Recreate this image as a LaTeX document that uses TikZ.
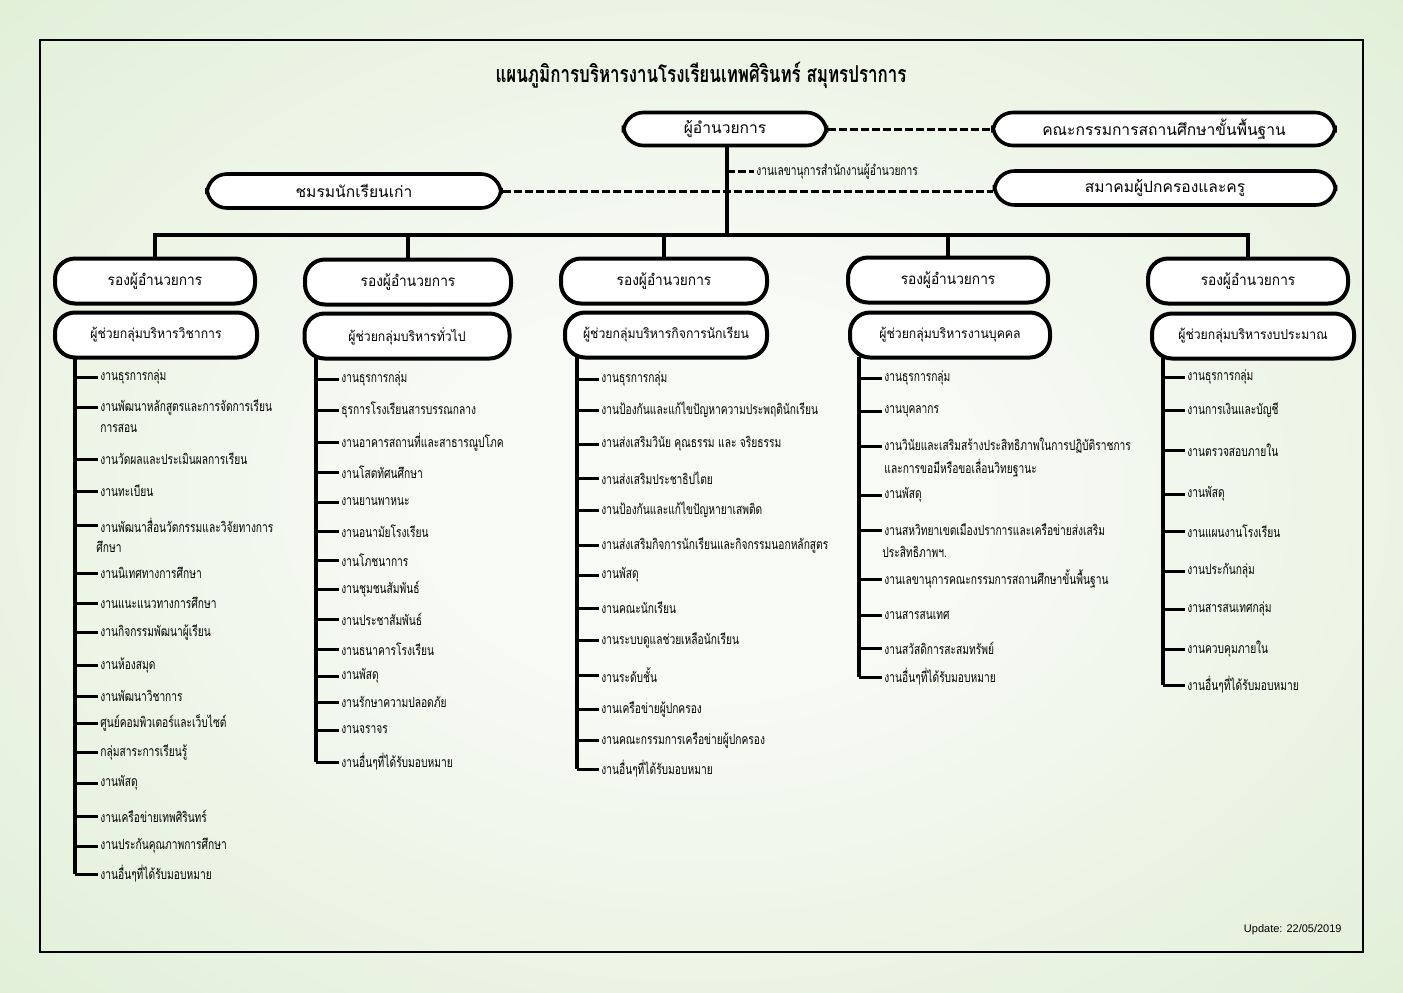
\documentclass[tikz,border=0pt]{standalone}
\usepackage{fontspec}
\newfontfamily\thai[Script=Thai]{Loma}
\newfontfamily\thaim[Script=Thai,FakeStretch=0.9]{Loma}
\newfontfamily\thaic[Script=Thai,FakeStretch=0.73]{Loma}
\newfontfamily\latn{Liberation Sans}
\usetikzlibrary{calc}
\definecolor{bgin}{RGB}{248,250,245}
\definecolor{bgmid}{RGB}{216,235,204}
\definecolor{bgout}{RGB}{194,222,176}
\pgfdeclareradialshading{bgshade}{\pgfpoint{0bp}{0bp}}{color(0bp)=(bgin); color(10bp)=(bgin); color(46bp)=(bgmid); color(72bp)=(bgout)}
\begin{document}
\begin{tikzpicture}[x=0.5pt,y=-0.5pt,
  capsule/.style={draw=black, line width=2pt, fill=white, rounded corners=10pt, inner sep=0pt},
  topbox/.style={capsule, line width=1.8pt, minimum height=16.5pt, font=\thai\fontsize{7.8}{9}\selectfont},
  vicebox/.style={capsule, minimum height=22.5pt, minimum width=100pt, font=\thaim\fontsize{7.6}{9}\selectfont},
  asstbox/.style={capsule, minimum height=22.5pt, minimum width=101pt, font=\thaim\fontsize{6.8}{8}\selectfont},
  item/.style={anchor=west, inner sep=1pt, font=\thaic\fontsize{7}{8}\selectfont},
  tick/.style={line width=1.5pt},
  colline/.style={line width=2pt},
  mainline/.style={line width=2pt},
  dashline/.style={line width=1.5pt, dash pattern=on 4pt off 1.5pt},
]
\useasboundingbox (0,0) rectangle (1403,992);
\shade[shading=bgshade] (0,0) rectangle (1403,992);
\node[draw=black, line width=0.8pt, minimum width=661.5pt, minimum height=456pt, inner sep=0pt] (frame) at (701.5,496) {};

\node[font=\thaic\bfseries\fontsize{11.6}{13}\selectfont] (title) at (701,75) {แผนภูมิการบริหารงานโรงเรียนเทพศิรินทร์ สมุทรปราการ};

% top level
\node[topbox, minimum width=101.5pt] (dir) at (725,129) {ผู้อำนวยการ};
\node[topbox, minimum width=171pt] (board) at (1164,129) {คณะกรรมการสถานศึกษาขั้นพื้นฐาน};
\node[topbox, minimum width=147pt, minimum height=17pt] (alumni) at (354,191) {ชมรมนักเรียนเก่า};
\node[topbox, minimum width=170.5pt, minimum height=17pt] (pta) at (1165,188) {สมาคมผู้ปกครองและครู};
\draw[dashline] (dir.east) -- (board.west);
\draw[dashline] (alumni.east) -- (alumni.east -| pta.west);

\coordinate (junc) at (727,235);
\draw[mainline] (dir.south -| junc) -- (junc);
\coordinate (secy) at (727,171);
\node[item] (secr) at (754,171) {งานเลขานุการสำนักงานผู้อำนวยการ};
\draw[dashline] (secy) -- (secr.west);

% vice directors
\node[vicebox] (v1) at (155,281) {รองผู้อำนวยการ};
\node[vicebox, minimum width=103pt] (v2) at (408,282) {รองผู้อำนวยการ};
\node[vicebox, minimum width=103pt] (v3) at (664,281) {รองผู้อำนวยการ};
\node[vicebox] (v4) at (948,280) {รองผู้อำนวยการ};
\node[vicebox] (v5) at (1248,281) {รองผู้อำนวยการ};

\coordinate (barl) at (153,235);
\coordinate (barr) at (1250,235);
\draw[mainline] (barl) -- (barr);
\foreach \v in {v1,v2,v3,v4,v5} {\draw[mainline] (\v.north |- barl) -- (\v.north);}

% assistants
\node[asstbox] (a1) at (156,335) {ผู้ช่วยกลุ่มบริหารวิชาการ};
\node[asstbox, minimum width=102.5pt] (a2) at (407,336) {ผู้ช่วยกลุ่มบริหารทั่วไป};
\node[asstbox] (a3) at (666,335) {ผู้ช่วยกลุ่มบริหารกิจการนักเรียน};
\node[asstbox, minimum width=100pt] (a4) at (950,335) {ผู้ช่วยกลุ่มบริหารงานบุคคล};
\node[asstbox] (a5) at (1253,336) {ผู้ช่วยกลุ่มบริหารงบประมาณ};

% column 1
\coordinate (k1) at (75,358);
\foreach \y/\t [count=\i] in {377/งานธุรการกลุ่ม, 407/งานพัฒนาหลักสูตรและการจัดการเรียน, 459/งานวัดผลและประเมินผลการเรียน, 491/งานทะเบียน, 525/งานพัฒนาสื่อนวัตกรรมและวิจัยทางการ, 573/งานนิเทศทางการศึกษา, 603/งานแนะแนวทางการศึกษา, 632/งานกิจกรรมพัฒนาผู้เรียน, 665/งานห้องสมุด, 696/งานพัฒนาวิชาการ, 723/ศูนย์คอมพิวเตอร์และเว็บไซต์, 752/กลุ่มสาระการเรียนรู้, 783/งานพัสดุ, 816/งานเครือข่ายเทพศิรินทร์, 846/งานประกันคุณภาพการศึกษา, 874/งานอื่นๆที่ได้รับมอบหมาย}
{
  \node[item] (c1-\i) at (98,\y) {\t};
  \draw[tick] (c1-\i.west -| k1) -- (c1-\i.west);
}
\node[item] (c1-2b) at (98,428) {การสอน};
\node[item] (c1-5b) at (94,547) {ศึกษา};
\draw[colline] (k1) -- (c1-16.west -| k1);

% column 2
\coordinate (k2) at (316,358);
\foreach \y/\t [count=\i] in {379/งานธุรการกลุ่ม, 410/ธุรการโรงเรียนสารบรรณกลาง, 442/งานอาคารสถานที่และสาธารณูปโภค, 472/งานโสตทัศนศึกษา, 502/งานยานพาหนะ, 531/งานอนามัยโรงเรียน, 560/งานโภชนาการ, 589/งานชุมชนสัมพันธ์, 619/งานประชาสัมพันธ์, 649/งานธนาคารโรงเรียน, 676/งานพัสดุ, 702/งานรักษาความปลอดภัย, 730/งานจราจร, 762/งานอื่นๆที่ได้รับมอบหมาย}
{
  \node[item] (c2-\i) at (339,\y) {\t};
  \draw[tick] (c2-\i.west -| k2) -- (c2-\i.west);
}
\draw[colline] (k2) -- (c2-14.west -| k2);

% column 3
\coordinate (k3) at (577,357);
\foreach \y/\t [count=\i] in {379/งานธุรการกลุ่ม, 410/งานป้องกันและแก้ไขปัญหาความประพฤตินักเรียน, 444/งานส่งเสริมวินัย คุณธรรม และ จริยธรรม, 478/งานส่งเสริมประชาธิปไตย, 510/งานป้องกันและแก้ไขปัญหายาเสพติด, 545/งานส่งเสริมกิจการนักเรียนและกิจกรรมนอกหลักสูตร, 575/งานพัสดุ, 608/งานคณะนักเรียน, 640/งานระบบดูแลช่วยเหลือนักเรียน, 675/งานระดับชั้น, 709/งานเครือข่ายผู้ปกครอง, 740/งานคณะกรรมการเครือข่ายผู้ปกครอง, 769/งานอื่นๆที่ได้รับมอบหมาย}
{
  \node[item] (c3-\i) at (599,\y) {\t};
  \draw[tick] (c3-\i.west -| k3) -- (c3-\i.west);
}
\draw[colline] (k3) -- (c3-13.west -| k3);

% column 4
\coordinate (k4) at (859,357);
\foreach \y/\t [count=\i] in {378/งานธุรการกลุ่ม, 411/งานบุคลากร, 446/งานวินัยและเสริมสร้างประสิทธิภาพในการปฏิบัติราชการ, 495/งานพัสดุ, 530/งานสหวิทยาเขตเมืองปราการและเครือข่ายส่งเสริม, 579/งานเลขานุการคณะกรรมการสถานศึกษาขั้นพื้นฐาน, 615/งานสารสนเทศ, 648/งานสวัสดิการสะสมทรัพย์, 677/งานอื่นๆที่ได้รับมอบหมาย}
{
  \node[item] (c4-\i) at (882,\y) {\t};
  \draw[tick] (c4-\i.west -| k4) -- (c4-\i.west);
}
\node[item] (c4-3b) at (882,468) {และการขอมีหรือขอเลื่อนวิทยฐานะ};
\node[item] (c4-5b) at (880,552) {ประสิทธิภาพฯ.};
\draw[colline] (k4) -- (c4-9.west -| k4);

% column 5
\coordinate (k5) at (1163,358);
\foreach \y/\t [count=\i] in {377/งานธุรการกลุ่ม, 410/งานการเงินและบัญชี, 450/งานตรวจสอบภายใน, 494/งานพัสดุ, 531/งานแผนงานโรงเรียน, 571/งานประกันกลุ่ม, 609/งานสารสนเทศกลุ่ม, 649/งานควบคุมภายใน, 685/งานอื่นๆที่ได้รับมอบหมาย}
{
  \node[item] (c5-\i) at (1185,\y) {\t};
  \draw[tick] (c5-\i.west -| k5) -- (c5-\i.west);
}
\draw[colline] (k5) -- (c5-9.west -| k5);

\node[font=\latn\fontsize{5.5}{6}\selectfont, anchor=east, inner sep=0pt] (upd) at (1342,930) {Update: 22/05/2019};
\end{tikzpicture}
\end{document}
